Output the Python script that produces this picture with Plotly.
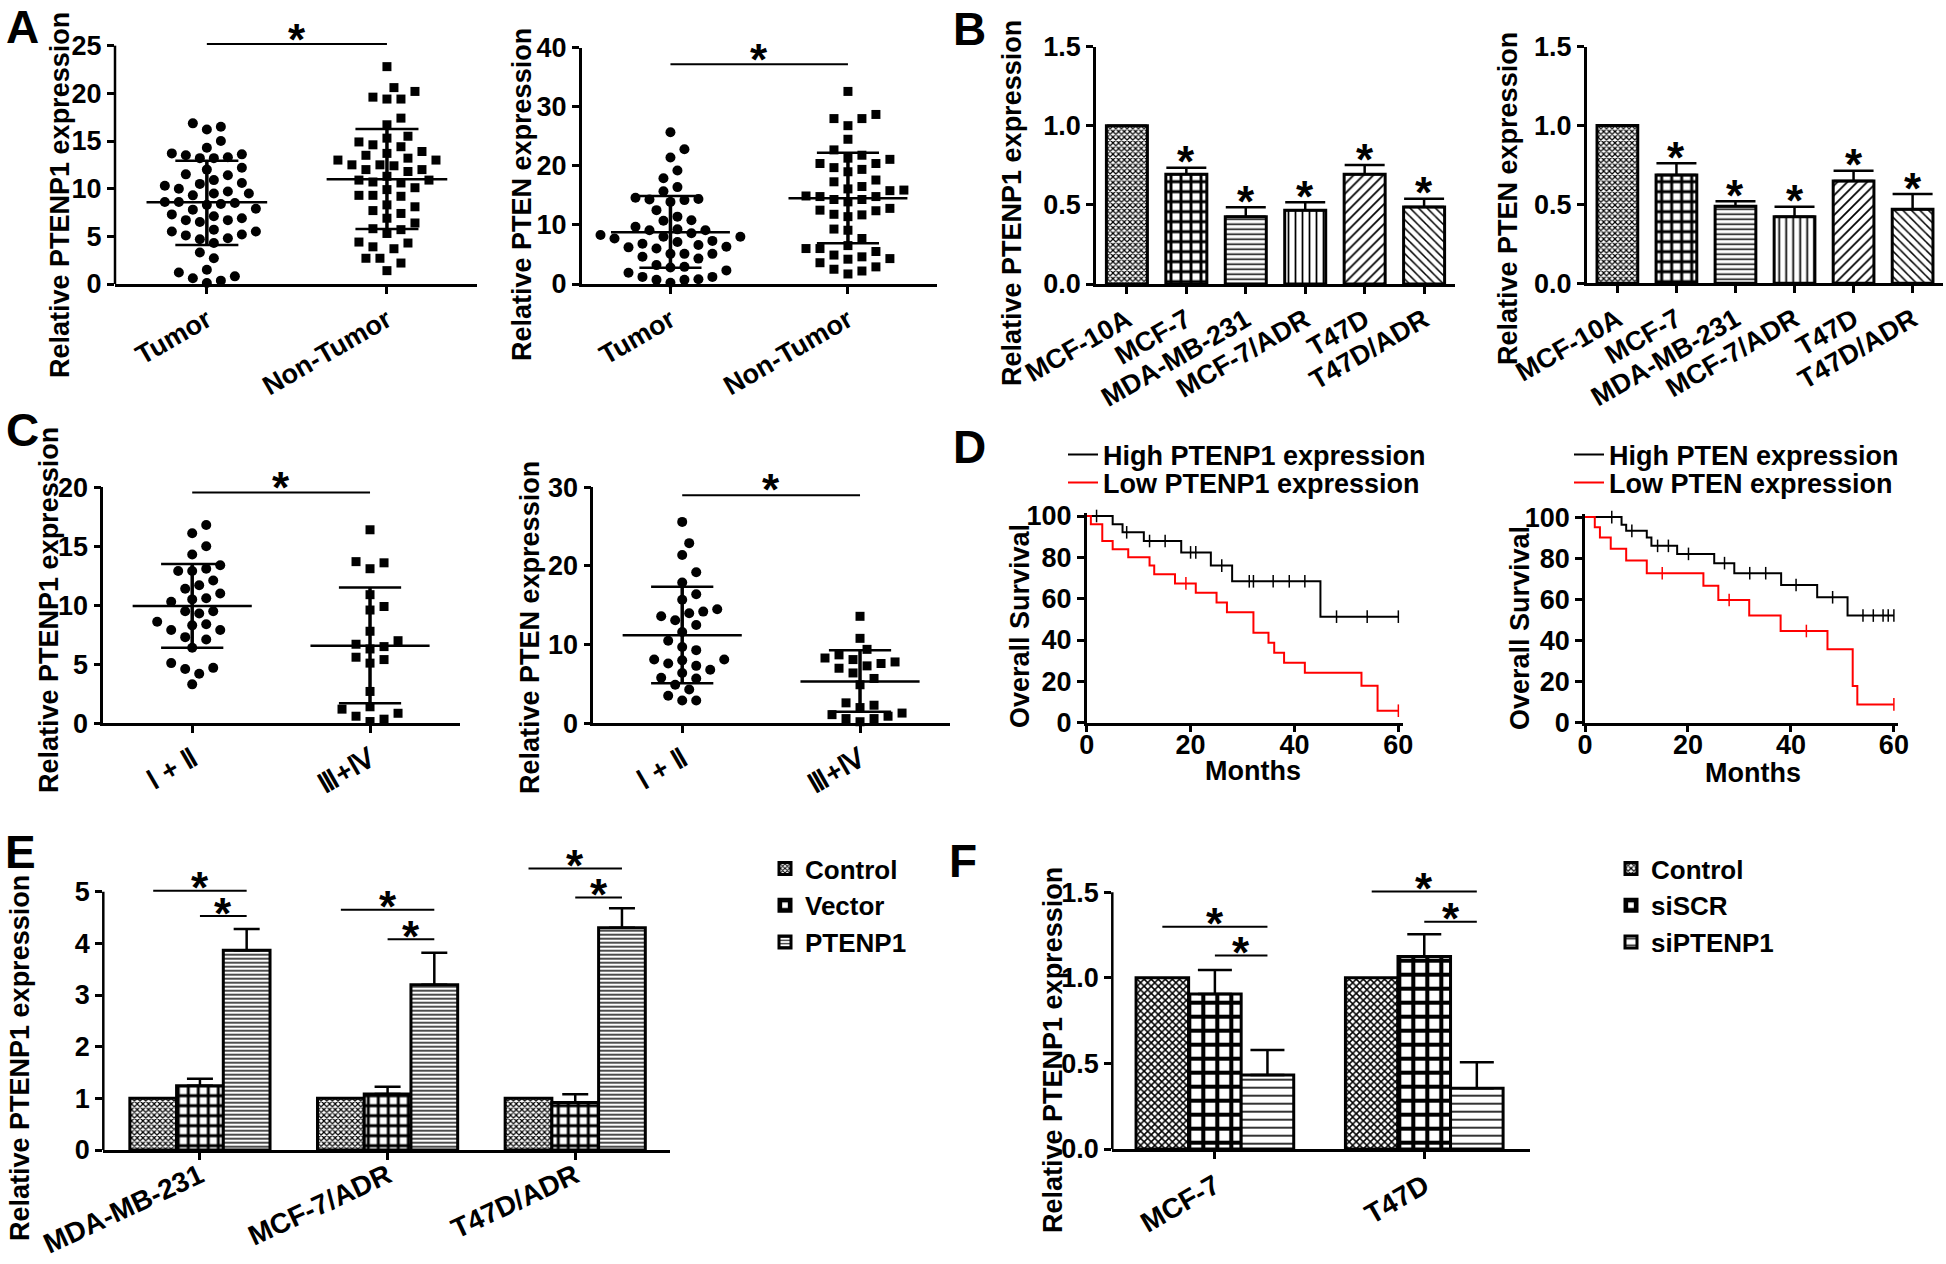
import numpy as np
import plotly.graph_objects as go

W, H = 1946, 1264
FONT = "Liberation Sans"

# ---------------- Panel A: scatter dot plots ----------------
a_groups = ["Tumor", "Non-Tumor"]
a1_tumor = [16.5, 16.85, 16.2, 15.0, 14.3, 13.6, 13.7, 13.2, 13.2, 13.3, 13.5, 12.2, 11.5, 11.4,
            10.9, 10.5, 10.6, 10.3, 10.0, 9.5, 9.5, 9.7, 9.3, 8.4, 8.3, 8.6, 8.6, 8.5, 7.8, 7.3,
            7.9, 7.1, 6.9, 6.7, 6.5, 6.7, 5.7, 5.2, 5.5, 5.1, 5.5, 4.8, 4.7, 4.3, 3.3, 2.7, 1.2,
            1.5, 0.8, 0.6, 0.1, 0.35, 12.0]
a1_nontumor = [22.8, 20.6, 20.2, 19.4, 19.4, 19.6, 17.4, 16.7, 15.5, 15.3, 14.9, 14.4, 14.6, 13.9,
               13.7, 13.5, 13.0, 13.0, 13.2, 12.5, 12.5, 12.4, 12.0, 12.0, 11.3, 11.8, 10.7, 10.9,
               10.9, 10.6, 10.1, 9.9, 9.3, 9.2, 9.3, 8.1, 8.3, 7.4, 6.9, 7.7, 6.4, 5.8, 5.3, 5.7,
               4.4, 4.3, 3.9, 3.7, 2.7, 2.7, 2.2, 1.4]
a1_mean = [8.57, 10.98]
a1_sd_hi = [12.94, 16.26]
a1_sd_lo = [4.09, 5.77]

a2_tumor = [25.7, 22.8, 21.4, 19.2, 17.9, 16.4, 15.7, 14.6, 13.9, 14.4, 14.3, 14.2, 12.5, 11.4,
            10.7, 10.8, 9.7, 9.1, 8.6, 8.0, 8.3, 7.7, 9.1, 9.25, 8.0, 7.1, 6.6, 6.3, 7.3, 6.8,
            6.2, 6.0, 5.1, 4.3, 4.6, 5.1, 5.1, 2.9, 2.8, 3.2, 1.9, 1.2, 0.7, 0.2, 0.7, 0.8, 1.2, 2.3]
a2_nontumor = [32.6, 28.0, 28.0, 28.7, 26.8, 24.5, 22.7, 20.4, 21.3, 21.1, 21.8, 20.4, 19.4, 19.0,
               19.7, 17.6, 16.5, 15.8, 15.9, 16.1, 17.3, 14.9, 14.3, 14.8, 14.3, 14.8, 12.8, 12.5,
               12.4, 11.7, 11.4, 11.8, 13.9, 9.3, 9.1, 7.7, 6.5, 6.0, 6.0, 5.5, 4.3, 4.2, 4.9, 3.6,
               2.9, 2.5, 1.7, 2.2, 4.6]
a2_mean = [8.75, 14.5]
a2_sd_hi = [14.9, 22.2]
a2_sd_lo = [2.76, 6.9]

# ---------------- Panel B: cell lines ----------------
cell_lines = ["MCF-10A", "MCF-7", "MDA-MB-231", "MCF-7/ADR", "T47D", "T47D/ADR"]
b1_mean = [1.0, 0.693, 0.425, 0.466, 0.693, 0.487]
b1_sem = [None, 0.042, 0.060, 0.051, 0.059, 0.052]
b2_mean = [1.0, 0.687, 0.488, 0.422, 0.649, 0.469]
b2_sem = [None, 0.074, 0.032, 0.064, 0.065, 0.097]

# ---------------- Panel C: stage ----------------
c_groups = ["Ⅰ + Ⅱ", "Ⅲ+Ⅳ"]
c1_early = [16.8, 16.1, 15.0, 14.3, 13.4, 13.1, 12.9, 12.9, 12.1, 11.7, 11.4, 11.0, 10.6, 10.5,
            10.3, 9.5, 9.3, 9.5, 8.6, 8.4, 8.3, 7.9, 7.9, 7.3, 7.1, 6.4, 5.1, 4.7, 4.6, 4.2, 3.3]
c1_late = [16.4, 13.7, 13.6, 13.1, 10.9, 9.9, 9.6, 7.8, 7.0, 6.7, 6.5, 6.3, 5.4, 5.6, 5.1, 2.7,
           1.2, 1.4, 0.85, 0.6, 0.15, 0.35]
c1_mean = [9.94, 6.58]
c1_sd_hi = [13.5, 11.5]
c1_sd_lo = [6.41, 1.7]

c2_early = [25.6, 22.9, 21.4, 19.2, 17.9, 16.4, 15.7, 14.5, 14.0, 14.2, 13.6, 13.1, 12.5, 11.6,
            10.5, 9.7, 9.3, 8.1, 8.1, 7.6, 6.8, 7.3, 6.4, 5.7, 5.8, 4.9, 4.3, 3.5, 2.9, 2.9, 8.0]
c2_late = [13.6, 10.8, 9.4, 8.7, 8.1, 7.6, 7.3, 7.8, 8.3, 7.0, 6.4, 5.7, 4.9, 2.0, 2.6, 2.3,
           1.1, 0.6, 0.2, 0.6, 0.9, 1.3]
c2_mean = [11.19, 5.3]
c2_sd_hi = [17.37, 9.3]
c2_sd_lo = [5.08, 1.48]

# ---------------- Panel D: Kaplan-Meier ----------------
d1_high_t = [0, 5.0, 6.9, 11.0, 18.2, 23.9, 28.0, 45.0, 60]
d1_high_s = [100, 96.0, 92.1, 87.9, 82.4, 76.0, 68.4, 51.3, 51.3]
d1_high_cens = [1.9, 7.7, 12.1, 15.1, 20.0, 21.0, 26.0, 31.3, 32.1, 35.9, 39.0, 42.0, 48.1, 54.0, 60]
d1_low_t = [0, 0.8, 3.0, 5.0, 8.0, 12.1, 13.0, 17.0, 21.0, 25.0, 27.0, 32.1, 35.0, 36.1, 38.0,
            42.0, 52.9, 56.0, 60]
d1_low_s = [100, 96.0, 87.9, 83.9, 80.0, 76.0, 71.8, 67.4, 62.9, 58.1, 53.4, 43.5, 38.7, 33.9,
            29.0, 24.2, 17.9, 5.8, 5.8]
d1_low_cens = [19.1, 60]

d2_high_t = [0, 7.1, 8.0, 12.0, 12.9, 17.9, 25.1, 29.0, 38.1, 45.1, 51.0, 60]
d2_high_s = [100, 96.3, 93.3, 90.1, 86.0, 82.1, 77.6, 72.7, 67.0, 61.0, 52.1, 52.1]
d2_high_cens = [5.2, 9.1, 14.1, 16.2, 20.1, 27.1, 32.0, 35.1, 41.0, 48.1, 54.0, 56.0, 57.9, 58.9, 60]
d2_low_t = [0, 1.9, 2.9, 5.0, 8.0, 12.0, 23.0, 25.9, 31.9, 38.0, 47.1, 52.0, 52.9, 60]
d2_low_s = [100, 95.1, 90.1, 84.6, 78.9, 72.7, 66.6, 59.7, 52.1, 44.6, 35.7, 17.9, 8.9, 8.9]
d2_low_cens = [15.0, 28.0, 43.0, 60]

# ---------------- Panel E: overexpression ----------------
e_lines = ["MDA-MB-231", "MCF-7/ADR", "T47D/ADR"]
e_names = ["Control", "Vector", "PTENP1"]
e_control = [1.0, 1.0, 1.0]
e_vector = [1.245, 1.084, 0.92]
e_vector_sem = [0.135, 0.141, 0.158]
e_ptenp1 = [3.866, 3.20, 4.30]
e_ptenp1_sem = [0.414, 0.62, 0.38]
e_long_y = [5.02, 4.65, 5.45]
e_short_y = [4.53, 4.08, 4.89]

# ---------------- Panel F: knockdown ----------------
f_lines = ["MCF-7", "T47D"]
f_names = ["Control", "siSCR", "siPTENP1"]
f_control = [1.0, 1.0]
f_siscr = [0.906, 1.124]
f_siscr_sem = [0.140, 0.131]
f_sip = [0.432, 0.355]
f_sip_sem = [0.146, 0.152]
f_long_y = [1.299, 1.504]
f_short_y = [1.13, 1.328]

# =====================================================================
fig = go.Figure()


def dom_x(p0, p1):
    return [p0 / W, p1 / W]


def dom_y(top, bottom):
    return [1 - bottom / H, 1 - top / H]


def bold(size):
    return dict(family=FONT, size=size, color="black", weight="bold")


AX = dict(showline=True, linecolor="black", linewidth=2.5, ticks="outside", ticklen=7,
          tickwidth=2.5, tickcolor="black", showgrid=False, zeroline=False,
          tickfont=bold(27), fixedrange=True, automargin=False)


def ids(n):
    return ("x" if n == 1 else f"x{n}"), ("y" if n == 1 else f"y{n}")


def set_axes(n, xdom, ydom, xr, yr, xtv, xtt, ytv, yfmt=None, xangle=0, xfont=26, yline=True,
             xstandoff=0):
    xi, yi = ids(n)
    xa = dict(AX, domain=xdom, range=xr, anchor=yi, tickvals=xtv, tickangle=xangle,
              tickfont=bold(xfont))
    if xstandoff:
        xa["ticklabelstandoff"] = xstandoff
    if xtt is not None:
        xa["ticktext"] = xtt
    ya = dict(AX, domain=ydom, range=yr, anchor=xi, tickvals=ytv, showline=yline)
    if yfmt:
        ya["tickformat"] = yfmt
    fig.update_layout({xi.replace("x", "xaxis"): xa, yi.replace("y", "yaxis"): ya})
    if not yline:
        fig.add_shape(type="line", xref=f"{xi} domain", x0=0, x1=0, yref=yi, y0=0, y1=ytv[-1],
                      line=dict(color="black", width=2.5))


def swarm_offsets(vals, ppu_y, ppu_x, step=7.0, mind=12.5):
    vals = np.asarray(vals, float)
    order = np.argsort(vals)
    seq = [0]
    for k in range(1, 14):
        seq += [k, -k]
    placed, offs = [], np.zeros(len(vals))
    for i in order:
        y = vals[i] * ppu_y
        for k in seq:
            x = k * step
            if all((x - px) ** 2 + (y - py) ** 2 >= mind ** 2 for px, py in placed):
                break
        placed.append((x, y))
        offs[i] = x / ppu_x
    return offs


STAR = 44


def star(n, x, y, off_px):
    xi, yi = ids(n)
    fig.add_annotation(x=x, y=y, xref=xi, yref=yi, text="*", showarrow=False,
                       xanchor="center", yanchor="middle", yshift=off_px - 0.205 * STAR,
                       font=bold(STAR))


def bracket(n, x0, x1, y):
    xi, yi = ids(n)
    fig.add_shape(type="line", xref=xi, yref=yi, x0=x0, x1=x1, y0=y, y1=y,
                  line=dict(color="black", width=2))


def scatter_panel(n, groups, means, hi, lo, ppu_y, ppu_x, sig_y, star_off):
    xi, yi = ids(n)
    syms, sizes = ["circle", "square"], [10, 9]
    for gi, vals in enumerate(groups):
        offs = swarm_offsets(vals, ppu_y, ppu_x)
        fig.add_trace(go.Scatter(x=gi + offs, y=vals, mode="markers", xaxis=xi, yaxis=yi,
                                 marker=dict(symbol=syms[gi], size=sizes[gi], color="black",
                                             line=dict(width=0)),
                                 showlegend=False, cliponaxis=False, hoverinfo="skip"))
    MH, CH = 0.335, 0.175
    xs, ys, vx, vy = [], [], [], []
    for gi in range(len(means)):
        xs += [gi - MH, gi + MH, None, gi - CH, gi + CH, None, gi - CH, gi + CH, None]
        ys += [means[gi], means[gi], None, hi[gi], hi[gi], None, lo[gi], lo[gi], None]
        vx += [gi, gi, None]
        vy += [lo[gi], hi[gi], None]
    fig.add_trace(go.Scatter(x=xs, y=ys, mode="lines", xaxis=xi, yaxis=yi,
                             line=dict(color="black", width=2.5), showlegend=False,
                             hoverinfo="skip"))
    fig.add_trace(go.Scatter(x=vx, y=vy, mode="lines", xaxis=xi, yaxis=yi,
                             line=dict(color="black", width=3.5), showlegend=False,
                             hoverinfo="skip"))
    bracket(n, 0, 1, sig_y)
    star(n, 0.5, sig_y, star_off)


# ---- Panel A ----
set_axes(1, dom_x(115, 477), dom_y(40.9, 284), [-0.51, 1.5], [0, 25.5], [0, 1], a_groups,
         [0, 5, 10, 15, 20, 25], xangle=-30, xfont=27, yline=False)
scatter_panel(1, [a1_tumor, a1_nontumor], a1_mean, a1_sd_hi, a1_sd_lo, 9.532, 180, 25.18, 13)

set_axes(2, dom_x(581.7, 936.7), dom_y(47.7, 284), [-0.5, 1.5], [0, 40], [0, 1], a_groups,
         [0, 10, 20, 30, 40], xangle=-30, xfont=27)
scatter_panel(2, [a2_tumor, a2_nontumor], a2_mean, a2_sd_hi, a2_sd_lo, 5.9075, 177.7, 37.2, 14)

# ---- Panel B ----
B_SHAPES = ["x", "+", "-", "|", "/", "\\"]
B_SIZES = [4, 10, 5, 7, 7, 6]
B_SOL = [0.5, 0.5, 0.3, 0.25, 0.25, 0.25]


def bar_b(n, means, sems):
    xi, yi = ids(n)
    fig.add_trace(go.Bar(
        x=list(range(len(means))), y=means, width=0.69, xaxis=xi, yaxis=yi, showlegend=False,
        marker=dict(color="white", line=dict(color="black", width=3),
                    pattern=dict(shape=B_SHAPES, size=B_SIZES, solidity=B_SOL,
                                 fgcolor="black", bgcolor="white", fillmode="replace")),
        error_y=dict(type="data", array=sems, arrayminus=[0] * len(means), symmetric=False,
                     color="black", thickness=2.5, width=20),
        hoverinfo="skip"))
    for i, (m, s) in enumerate(zip(means, sems)):
        if s is not None:
            star(n, i, m + s, 15)


set_axes(3, dom_x(1096, 1455), dom_y(46.7, 284), [-0.52, 5.52], [0, 1.5], list(range(6)),
         cell_lines, [0, 0.5, 1.0, 1.5], yfmt=".1f", xangle=-30, xfont=27)
bar_b(3, b1_mean, b1_sem)
set_axes(4, dom_x(1586.7, 1943.3), dom_y(46.7, 283.3), [-0.52, 5.52], [0, 1.5], list(range(6)),
         cell_lines, [0, 0.5, 1.0, 1.5], yfmt=".1f", xangle=-30, xfont=27)
bar_b(4, b2_mean, b2_sem)

# ---- Panel C ----
set_axes(5, dom_x(103.3, 460), dom_y(487.3, 723.3), [-0.5, 1.506], [0, 20], [0, 1], c_groups,
         [0, 5, 10, 15, 20], xangle=-30, xfont=27)
scatter_panel(5, [c1_early, c1_late], c1_mean, c1_sd_hi, c1_sd_lo, 11.8, 177.7, 19.55, 14)
set_axes(6, dom_x(593.3, 950), dom_y(487.3, 723.3), [-0.5, 1.506], [0, 30], [0, 1], c_groups,
         [0, 10, 20, 30], xangle=-30, xfont=27)
scatter_panel(6, [c2_early, c2_late], c2_mean, c2_sd_hi, c2_sd_lo, 7.867, 177.7, 29.0, 15)


# ---- Panel D ----
def km(n, t, s, cens, color, name, legend):
    xi, yi = ids(n)
    fig.add_trace(go.Scatter(x=t, y=s, mode="lines", line=dict(color=color, width=2, shape="hv"),
                             xaxis=xi, yaxis=yi, name=name, legend=legend, hoverinfo="skip"))
    t_arr = np.asarray(t)
    idx = np.searchsorted(t_arr, cens, side="right") - 1
    cy = np.asarray(s)[idx]
    fig.add_trace(go.Scatter(x=cens, y=cy, mode="markers", xaxis=xi, yaxis=yi, showlegend=False,
                             marker=dict(symbol="line-ns", size=9, line=dict(width=1.5, color=color)),
                             cliponaxis=False, hoverinfo="skip"))


set_axes(7, dom_x(1086.7, 1402.5), dom_y(512.9, 722.7), [0, 60.8], [0, 101.5], [0, 20, 40, 60],
         None, [0, 20, 40, 60, 80, 100], xstandoff=-11, xfont=27)
km(7, d1_high_t, d1_high_s, d1_high_cens, "black", "High PTENP1 expression", "legend3")
km(7, d1_low_t, d1_low_s, d1_low_cens, "#ff0000", "Low PTENP1 expression", "legend4")
set_axes(8, dom_x(1585, 1898), dom_y(514, 722.7), [0, 60.8], [0, 101.5], [0, 20, 40, 60],
         None, [0, 20, 40, 60, 80, 100], xstandoff=-11, xfont=27)
km(8, d2_high_t, d2_high_s, d2_high_cens, "black", "High PTEN expression", "legend5")
km(8, d2_low_t, d2_low_s, d2_low_cens, "#ff0000", "Low PTEN expression", "legend6")


# ---- Panels E / F ----
def grouped(n, cats, series, sems, names, shapes, sizes, sols, w, cap, legend, long_y, short_y):
    xi, yi = ids(n)
    k = len(series)
    xs = list(range(len(cats)))
    for j in range(k):
        err = dict(visible=False)
        if sems[j] is not None:
            err = dict(type="data", array=sems[j], arrayminus=[0] * len(cats), symmetric=False,
                       color="black", thickness=2.5, width=cap)
        fig.add_trace(go.Bar(
            x=xs, y=series[j], width=w, offset=(j - k / 2) * w, xaxis=xi, yaxis=yi,
            name=names[j], legend=legend,
            marker=dict(color="white", line=dict(color="black", width=3),
                        pattern=dict(shape=shapes[j], size=sizes[j], solidity=sols[j],
                                     fgcolor="black", bgcolor="white", fillmode="replace")),
            error_y=err, hoverinfo="skip"))
    for i in xs:
        bracket(n, i - w, i + w, long_y[i])
        star(n, i, long_y[i], 12)
        bracket(n, i, i + w, short_y[i])
        star(n, i + w / 2, short_y[i], 12)


set_axes(9, dom_x(103.3, 670), dom_y(860.7, 1150), [-0.515, 2.505], [0, 5.6], [0, 1, 2],
         e_lines, [0, 1, 2, 3, 4, 5], xangle=-25, xfont=28, yline=False, xstandoff=-11)
grouped(9, e_lines, [e_control, e_vector, e_ptenp1], [None, e_vector_sem, e_ptenp1_sem], e_names,
        ["x", "+", "-"], [4, 10, 4], [0.5, 0.5, 0.35], 0.249, 13, "legend", e_long_y, e_short_y)

set_axes(10, dom_x(1112.3, 1530), dom_y(883.7, 1149), [-0.49, 1.505], [0, 1.55], [0, 1],
         f_lines, [0, 0.5, 1.0, 1.5], yfmt=".1f", xangle=-30, xfont=28, yline=False)
grouped(10, f_lines, [f_control, f_siscr, f_sip], [None, f_siscr_sem, f_sip_sem], f_names,
        ["x", "+", "-"], [5, 14, 8], [0.5, 0.5, 0.2], 0.251, 17, "legend2", f_long_y, f_short_y)

# ---- Axis titles ----
ytitles = [
    ("Relative PTENP1 expression", 60, 195),
    ("Relative PTEN expression", 522, 195),
    ("Relative PTENP1 expression", 1012, 203),
    ("Relative PTEN expression", 1508, 199),
    ("Relative PTENP1 expression", 49, 610),
    ("Relative PTEN expression", 530, 628),
    ("Overall Survival", 1020, 626),
    ("Overall Survival", 1520, 628),
    ("Relative PTENP1 expression", 20, 1058),
    ("Relative PTENP1 expression", 1053, 1050),
]
for txt, px, py in ytitles:
    fig.add_annotation(x=px / W, y=1 - py / H, xref="paper", yref="paper", text=txt,
                       textangle=-90, showarrow=False, xanchor="center", yanchor="middle",
                       font=bold(27))
for px, py in [(1253, 771), (1753, 773)]:
    fig.add_annotation(x=px / W, y=1 - py / H, xref="paper", yref="paper", text="Months",
                       showarrow=False, xanchor="center", yanchor="middle", font=bold(27))

# ---- Panel letters ----
for letter, px, py in [("A", 22, 27), ("B", 969, 29), ("C", 22, 430), ("D", 969, 447),
                       ("E", 20, 852), ("F", 963, 861)]:
    fig.add_annotation(x=px / W, y=1 - py / H, xref="paper", yref="paper", text=letter,
                       showarrow=False, xanchor="center", yanchor="middle", font=bold(46))

# ---- Legends ----
LEG = dict(bgcolor="rgba(0,0,0,0)", borderwidth=0, font=bold(26), xanchor="left",
           yanchor="top", tracegroupgap=0, itemwidth=30)
fig.update_layout(
    legend=dict(LEG, x=765 / W, y=1 - 845 / H),
    legend2=dict(LEG, x=1611 / W, y=1 - 845 / H),
    legend3=dict(LEG, x=1063 / W, y=1 - 455 / H, yanchor="middle", font=bold(27)),
    legend4=dict(LEG, x=1063 / W, y=1 - 483 / H, yanchor="middle", font=bold(27)),
    legend5=dict(LEG, x=1569 / W, y=1 - 455 / H, yanchor="middle", font=bold(27)),
    legend6=dict(LEG, x=1569 / W, y=1 - 483 / H, yanchor="middle", font=bold(27)),
)

fig.update_layout(template="none", width=W, height=H, autosize=False,
                  margin=dict(l=0, r=0, t=0, b=0, autoexpand=False),
                  paper_bgcolor="white", plot_bgcolor="white", barmode="overlay",
                  font=dict(family=FONT, color="black"))

fig.write_html("out.html", config={"displayModeBar": False},
               post_script="document.body.style.margin='0px';")
